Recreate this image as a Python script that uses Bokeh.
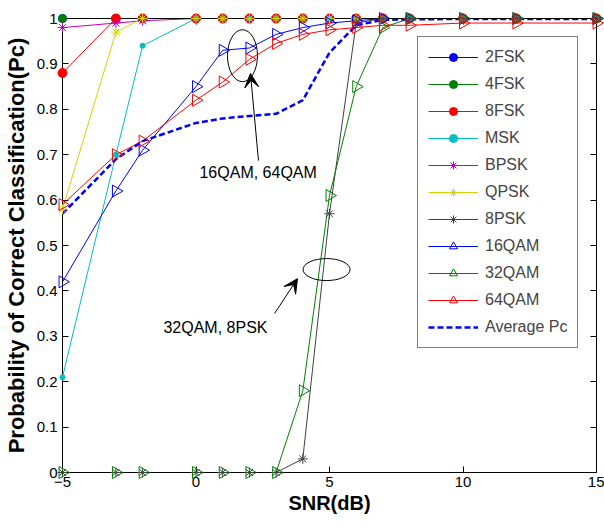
import numpy as np
from bokeh.plotting import figure
from bokeh.models import Range1d, LinearAxis, FixedTicker, Arrow, VeeHead, Label, Legend, LegendItem
from bokeh.embed import file_html
from bokeh.resources import INLINE
from bokeh.core.properties import value

snr = [-5, -3, -2, 0, 1, 2, 3, 4, 5, 6, 7, 8, 10, 12, 15]

pc_2fsk = [1, 1, 1, 1, 1, 1, 1, 1, 1, 1, 1, 1, 1, 1, 1]
pc_4fsk = [1, 1, 1, 1, 1, 1, 1, 1, 1, 1, 1, 1, 1, 1, 1]
pc_8fsk = [0.88, 1, 1, 1, 1, 1, 1, 1, 1, 1, 1, 1, 1, 1, 1]
pc_msk = [0.21, 0.70, 0.94, 1, 1, 1, 1, 1, 1, 1, 1, 1, 1, 1, 1]
pc_bpsk = [0.98, 0.99, 0.995, 1, 1, 1, 1, 1, 1, 1, 1, 1, 1, 1, 1]
pc_qpsk = [0.58, 0.97, 1, 1, 1, 1, 1, 1, 1, 1, 1, 1, 1, 1, 1]
pc_8psk = [0, 0, 0, 0, 0, 0, 0, 0.03, 0.57, 0.99, 1, 1, 1, 1, 1]
pc_16qam = [0.42, 0.62, 0.71, 0.85, 0.93, 0.935, 0.965, 0.98, 0.99, 0.995, 1, 1, 1, 1, 1]
pc_32qam = [0, 0, 0, 0, 0, 0, 0, 0.18, 0.61, 0.85, 0.98, 1, 1, 1, 1]
pc_64qam = [0.59, 0.70, 0.73, 0.82, 0.86, 0.91, 0.945, 0.965, 0.975, 0.98, 0.985, 0.985, 0.99, 0.99, 0.99]
pc_avg = [0.57, 0.69, 0.73, 0.77, 0.78, 0.785, 0.79, 0.82, 0.925, 0.985, 0.997, 0.998, 0.999, 0.999, 0.999]

x_ticks = [-5, 0, 5, 10, 15]
y_ticks = [0, 0.1, 0.2, 0.3, 0.4, 0.5, 0.6, 0.7, 0.8, 0.9, 1]

# annotations
ann_texts = ["16QAM, 64QAM", "32QAM, 8PSK"]
ann_text_x = [0.13, -1.22]
ann_text_y = [0.66, 0.319]
ell_x = [1.74, 4.89]
ell_y = [0.918, 0.447]
ell_w = [30, 47]
ell_h = [52, 22]
arr_x0 = [2.34, 2.94]
arr_y0 = [0.687, 0.35]
arr_x1 = [2.04, 3.80]
arr_y1 = [0.879, 0.427]

FONT = "Liberation Sans"

p = figure(width=604, height=527, x_range=Range1d(-5, 15), y_range=Range1d(0, 1),
           output_backend="svg", toolbar_location=None,
           min_border_left=62, min_border_right=8, min_border_top=18, min_border_bottom=55)
p.background_fill_color = "white"
p.border_fill_color = "white"
p.outline_line_color = "black"
p.grid.visible = False

for ax in [p.xaxis[0], p.yaxis[0]]:
    ax.major_tick_in = 6
    ax.major_tick_out = 0
    ax.minor_tick_line_color = None
    ax.axis_line_color = "black"
    ax.major_tick_line_color = "black"
    ax.major_label_text_font = FONT
    ax.major_label_text_font_size = "15px"
    ax.major_label_text_color = "black"
    ax.axis_label_text_font = FONT
    ax.axis_label_text_font_style = "bold"
    ax.axis_label_text_color = "black"

p.xaxis.ticker = FixedTicker(ticks=x_ticks)
p.yaxis.ticker = FixedTicker(ticks=y_ticks)
p.yaxis.major_label_overrides = {0: "0", 1: "1"}
p.xaxis.axis_label = "SNR(dB)"
p.yaxis.axis_label = "Probability of Correct Classification(Pc)"
p.xaxis.axis_label_text_font_size = "20px"
p.yaxis.axis_label_text_font_size = "22px"
p.xaxis.major_label_standoff = 4
p.yaxis.major_label_standoff = 5
p.xaxis.axis_label_standoff = 2
p.yaxis.axis_label_standoff = 5

top = LinearAxis(ticker=FixedTicker(ticks=x_ticks), major_label_text_font_size="0px",
                 major_label_text_color=None,
                 major_tick_in=6, major_tick_out=0, major_label_standoff=0,
                 minor_tick_line_color=None, axis_line_color="black")
right = LinearAxis(ticker=FixedTicker(ticks=y_ticks), major_label_text_font_size="0px",
                   major_label_text_color=None,
                   major_tick_in=6, major_tick_out=0, major_label_standoff=0,
                   minor_tick_line_color=None, axis_line_color="black")
p.add_layout(top, "above")
p.add_layout(right, "right")

series = [
    ("2FSK", pc_2fsk, "#0000ff", "circle", 8, True),
    ("4FSK", pc_4fsk, "#008000", "circle", 8, True),
    ("8FSK", pc_8fsk, "#ff0000", "circle", 9, True),
    ("MSK", pc_msk, "#00bfbf", "circle", 5, True),
    ("BPSK", pc_bpsk, "#bf00bf", "asterisk", 10, False),
    ("QPSK", pc_qpsk, "#d4d400", "asterisk", 10, False),
    ("8PSK", pc_8psk, "#404040", "asterisk", 10, False),
    ("16QAM", pc_16qam, "#0000ff", "triangle", 12, False),
    ("32QAM", pc_32qam, "#008000", "triangle", 12, False),
    ("64QAM", pc_64qam, "#ff0000", "triangle", 12, False),
]

items = []
for name, ys, col, mk, sz, filled in series:
    r1 = p.line(snr, ys, line_color=col, line_width=1)
    kw = dict(marker=mk, size=sz, line_color=col, line_width=1,
              fill_color=col if filled else None)
    if mk == "triangle":
        kw["angle"] = -np.pi / 2
    r2 = p.scatter(snr, ys, level="overlay", **kw)
    items.append(LegendItem(label=name, renderers=[r1, r2]))

ra = p.line(snr, pc_avg, line_color="#0000ff", line_width=2.5, line_dash="6 3")
items.append(LegendItem(label="Average Pc", renderers=[ra]))

p.ellipse(x=ell_x, y=ell_y, width=ell_w, height=ell_h, width_units="screen",
          height_units="screen", fill_color=None, line_color="black", line_width=1)

for i in range(2):
    p.add_layout(Arrow(end=VeeHead(size=14, fill_color="black", line_color="black"),
                       x_start=arr_x0[i], y_start=arr_y0[i], x_end=arr_x1[i], y_end=arr_y1[i],
                       line_color="black", line_width=1))
    p.add_layout(Label(x=ann_text_x[i], y=ann_text_y[i], text=ann_texts[i],
                       text_font=FONT, text_font_size="16px", text_baseline="middle",
                       text_color="black"))

legend = Legend(items=items, location=(355, 124), label_text_font=FONT,
                label_text_font_size="16px", label_height=20, glyph_height=20,
                glyph_width=50, spacing=7, padding=10, label_standoff=7, margin=0,
                border_line_color="black", border_line_width=1,
                background_fill_color="white", background_fill_alpha=1)
p.add_layout(legend, "center")

open("out.html", "w").write(file_html(p, INLINE))
